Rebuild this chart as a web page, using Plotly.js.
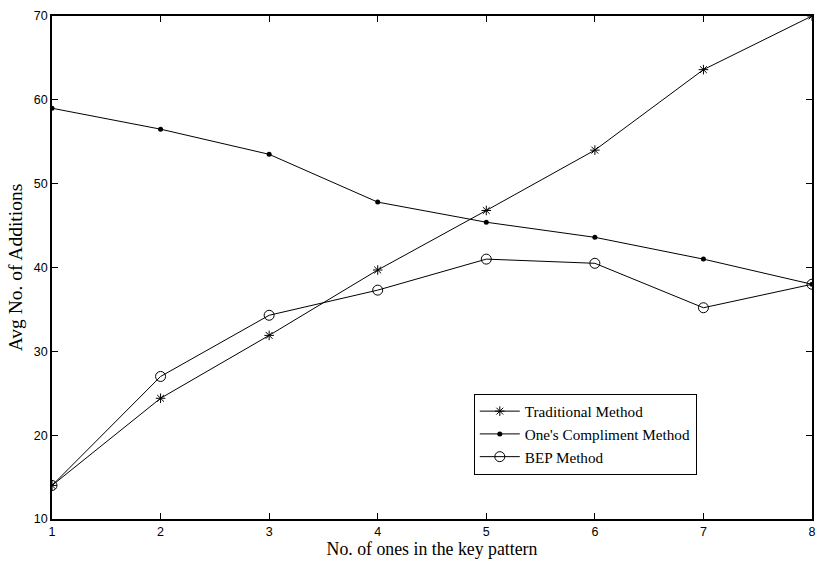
<!DOCTYPE html>
<html><head><meta charset="utf-8">
<script src="https://cdn.plot.ly/plotly-3.0.1.min.js"></script>
<style>body{margin:0;background:#fff}#c{width:818px;height:565px}</style>
</head><body><div id="c"></div>
<script>
const xs = [1,2,3,4,5,6,7,8];
const traditional = [14, 24.4, 31.9, 39.7, 46.8, 54, 63.6, 70];
const onesCompliment = [59, 56.5, 53.5, 47.8, 45.4, 43.6, 41, 38];
const bep = [14, 27, 34.3, 37.3, 41, 40.5, 35.2, 38];
const names = ["Traditional Method", "One's Compliment Method", "BEP Method"];
const xTitle = 'No. of ones in the key pattern';
const yTitle = 'Avg No. of Additions';
const line = {color:'#000', width:1};
const data = [
 {x:xs, y:traditional, name:names[0], mode:'lines+markers', line:line,
  marker:{symbol:'asterisk-open', size:8, color:'#000', line:{color:'#000', width:1}}},
 {x:xs, y:onesCompliment, name:names[1], mode:'lines+markers', line:line,
  marker:{symbol:'circle', size:5, color:'#000'}},
 {x:xs, y:bep, name:names[2], mode:'lines+markers', line:line,
  marker:{symbol:'circle-open', size:10, color:'#000', line:{color:'#000', width:1}}}
];
const serif = 'Liberation Serif, Times New Roman, serif';
const ax = {showgrid:false, zeroline:false, showline:true, linecolor:'#000', linewidth:1.5, mirror:'ticks',
  ticks:'inside', ticklen:6, tickcolor:'#000', tickfont:{family:'Liberation Sans, Arial', size:12.5, color:'#000'}};
const layout = {
  width:818, height:565, paper_bgcolor:'#fff', plot_bgcolor:'#fff',
  margin:{l:52, r:6, t:16, b:46},
  showlegend:true,
  legend:{x:0.555, y:0.249, xanchor:'left', yanchor:'top', bordercolor:'#000', borderwidth:1, bgcolor:'#fff',
    font:{family:serif, size:15.2, color:'#000'}, tracegroupgap:0, itemwidth:40},
  xaxis:Object.assign({}, ax, {range:[1,8], dtick:1,
    title:{text:xTitle, font:{family:serif, size:17.8, color:'#000'}, standoff:4}}),
  yaxis:Object.assign({}, ax, {range:[10,70], dtick:10,
    title:{text:yTitle, font:{family:serif, size:19.5, color:'#000'}, standoff:6}})
};
Plotly.newPlot('c', data, layout, {displayModeBar:false});
</script></body></html>
